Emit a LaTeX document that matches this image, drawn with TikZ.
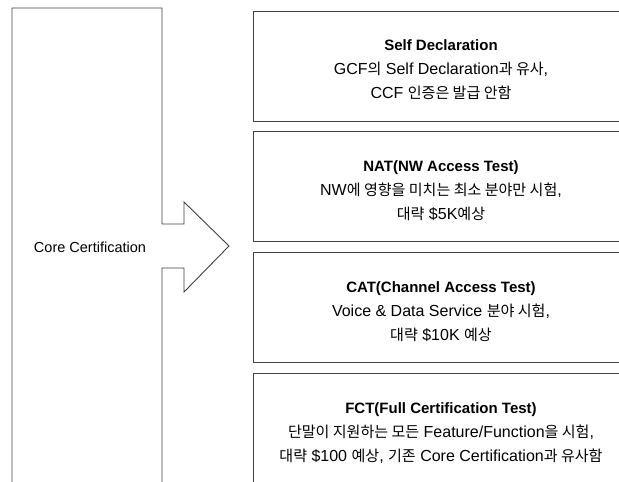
\documentclass[tikz,border=0pt]{standalone}
\usepackage{fontspec}
\setmainfont{Liberation Sans}
\newfontfamily\kr{Noto Sans CJK KR}[Scale=0.94]
\usetikzlibrary{positioning}

\newcommand{\boxtitle}[1]{{\fontsize{15}{24}\selectfont\bfseries\rule{0pt}{19pt}#1}}

\begin{document}
\begin{tikzpicture}[
    x=1pt, y=1pt,
    frame/.style={draw=black!75, line width=0.9pt},
    testbox/.style={rectangle, frame, minimum width=376pt, minimum height=#1, align=center, inner sep=0pt, font=\fontsize{16}{24}\selectfont},
    testbox/.default=110pt,
    corelabel/.style={font=\fontsize{14.5}{17}\selectfont}
]
    \useasboundingbox (0,0) rectangle (619,482);
    \clip (0,0) rectangle (619,482);

    % Core certification block with arrow
    \draw[frame] (12,0) -- (12,474) -- (162,474) -- (162,258) -- (184,258) -- (184,280)
        -- (229,236) -- (184,190) -- (184,214) -- (162,214) -- (162,0);
    \node[corelabel] (core) at (90,235) {Core Certification};

    % Test levels
    \node[testbox] (self) at (441,416) {\boxtitle{Self Declaration}\\
        GCF{\kr 의} Self Declaration{\kr 과 유사},\\
        CCF {\kr 인증은 발급 안함}};
    \node[testbox, below=10pt of self] (nat) {\boxtitle{NAT(NW Access Test)}\\
        NW{\kr 에 영향을 미치는 최소 분야만 시험},\\
        {\kr 대략} \$5K{\kr 예상}};
    \node[testbox, below=10pt of nat] (cat) {\boxtitle{CAT(Channel Access Test)}\\
        Voice \& Data Service {\kr 분야 시험},\\
        {\kr 대략} \$10K {\kr 예상}};
    \node[testbox, below=10pt of cat] (fct) {\boxtitle{FCT(Full Certification Test)}\\
        {\kr 단말이 지원하는 모든} Feature/Function{\kr 을 시험},\\
        {\kr 대략} \$100 {\kr 예상}, {\kr 기존} Core Certification{\kr 과 유사함}};
\end{tikzpicture}
\end{document}
